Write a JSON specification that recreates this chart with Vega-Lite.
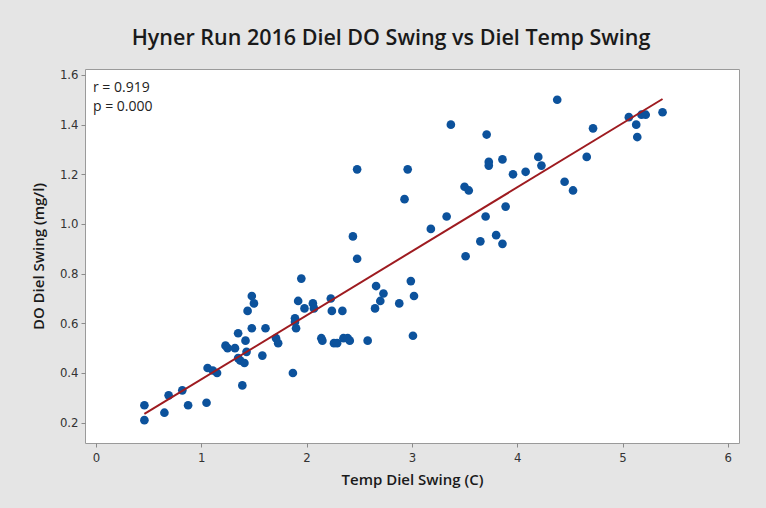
{
  "$schema": "https://vega.github.io/schema/vega-lite/v6.json",
  "width": 654,
  "height": 374,
  "autosize": {"type": "none"},
  "padding": {"left": 85, "top": 69, "right": 27, "bottom": 65},
  "background": "#e5e5e5",
  "title": {
    "text": "Hyner Run 2016 Diel DO Swing vs Diel Temp Swing",
    "font": "Open Sans",
    "fontSize": 21.5,
    "fontWeight": 600,
    "color": "#1a1a1a",
    "anchor": "middle",
    "frame": "group",
    "dx": -21,
    "baseline": "alphabetic",
    "offset": 2
  },
  "config": {
    "view": {"stroke": "#9a9a9a", "strokeWidth": 1, "fill": "white"},
    "axis": {
      "grid": false,
      "domain": false,
      "tickColor": "#8a8a8a",
      "tickSize": 4,
      "labelFont": "Liberation Sans Narrow, DejaVu Sans Condensed, sans-serif",
      "labelFontSize": 13,
      "labelColor": "#333333",
      "titleFont": "Open Sans",
      "titleFontSize": 15,
      "titleFontWeight": 600,
      "titleColor": "#1a1a1a"
    }
  },
  "datasets": {
    "pts": [
      {"temp": 0.46, "do": 0.27}, {"temp": 0.46, "do": 0.21}, {"temp": 0.65, "do": 0.24},
      {"temp": 0.69, "do": 0.31}, {"temp": 0.82, "do": 0.33}, {"temp": 0.875, "do": 0.27},
      {"temp": 1.05, "do": 0.28}, {"temp": 1.06, "do": 0.42}, {"temp": 1.11, "do": 0.41},
      {"temp": 1.15, "do": 0.4}, {"temp": 1.23, "do": 0.51}, {"temp": 1.25, "do": 0.5},
      {"temp": 1.32, "do": 0.5}, {"temp": 1.35, "do": 0.56}, {"temp": 1.42, "do": 0.53},
      {"temp": 1.43, "do": 0.485}, {"temp": 1.35, "do": 0.46}, {"temp": 1.37, "do": 0.45},
      {"temp": 1.41, "do": 0.44}, {"temp": 1.39, "do": 0.35}, {"temp": 1.44, "do": 0.65},
      {"temp": 1.48, "do": 0.71}, {"temp": 1.5, "do": 0.68}, {"temp": 1.48, "do": 0.58},
      {"temp": 1.61, "do": 0.58}, {"temp": 1.58, "do": 0.47}, {"temp": 1.71, "do": 0.54},
      {"temp": 1.73, "do": 0.52}, {"temp": 1.87, "do": 0.4}, {"temp": 1.89, "do": 0.62},
      {"temp": 1.9, "do": 0.58}, {"temp": 1.92, "do": 0.69}, {"temp": 1.95, "do": 0.78},
      {"temp": 1.98, "do": 0.66}, {"temp": 2.06, "do": 0.68}, {"temp": 2.07, "do": 0.66},
      {"temp": 1.89, "do": 0.605}, {"temp": 2.23, "do": 0.7}, {"temp": 2.24, "do": 0.65},
      {"temp": 2.34, "do": 0.65}, {"temp": 2.14, "do": 0.54}, {"temp": 2.15, "do": 0.53},
      {"temp": 2.26, "do": 0.52}, {"temp": 2.29, "do": 0.52}, {"temp": 2.35, "do": 0.54},
      {"temp": 2.39, "do": 0.54}, {"temp": 2.41, "do": 0.53}, {"temp": 2.58, "do": 0.53},
      {"temp": 2.66, "do": 0.75}, {"temp": 2.73, "do": 0.72}, {"temp": 2.7, "do": 0.69},
      {"temp": 2.65, "do": 0.66}, {"temp": 2.88, "do": 0.68}, {"temp": 2.99, "do": 0.77},
      {"temp": 3.02, "do": 0.71}, {"temp": 3.01, "do": 0.55}, {"temp": 2.48, "do": 1.22},
      {"temp": 2.96, "do": 1.22}, {"temp": 2.93, "do": 1.1}, {"temp": 2.44, "do": 0.95},
      {"temp": 2.48, "do": 0.86}, {"temp": 3.18, "do": 0.98}, {"temp": 3.33, "do": 1.03},
      {"temp": 3.37, "do": 1.4}, {"temp": 3.71, "do": 1.36}, {"temp": 4.38, "do": 1.5},
      {"temp": 4.72, "do": 1.385}, {"temp": 3.73, "do": 1.25}, {"temp": 3.73, "do": 1.235},
      {"temp": 3.86, "do": 1.26}, {"temp": 3.96, "do": 1.2}, {"temp": 4.08, "do": 1.21},
      {"temp": 4.2, "do": 1.27}, {"temp": 4.23, "do": 1.235}, {"temp": 4.66, "do": 1.27},
      {"temp": 4.45, "do": 1.17}, {"temp": 4.53, "do": 1.135}, {"temp": 3.5, "do": 1.15},
      {"temp": 3.54, "do": 1.135}, {"temp": 3.7, "do": 1.03}, {"temp": 3.89, "do": 1.07},
      {"temp": 3.8, "do": 0.955}, {"temp": 3.86, "do": 0.92}, {"temp": 3.65, "do": 0.93},
      {"temp": 3.51, "do": 0.87}, {"temp": 5.06, "do": 1.43}, {"temp": 5.18, "do": 1.44},
      {"temp": 5.22, "do": 1.44}, {"temp": 5.13, "do": 1.4}, {"temp": 5.14, "do": 1.35},
      {"temp": 5.38, "do": 1.45}
    ],
    "stats": [
      {"label": "r = 0.919", "line": 1},
      {"label": "p = 0.000", "line": 2}
    ]
  },
  "layer": [
    {
      "data": {"name": "pts"},
      "mark": {"type": "point", "filled": true, "shape": "circle", "size": 75, "color": "#0c529c", "opacity": 1},
      "encoding": {
        "x": {
          "field": "temp",
          "type": "quantitative",
          "scale": {"domain": [-0.104, 6.106], "nice": false, "zero": false},
          "axis": {"values": [0, 1, 2, 3, 4, 5, 6], "format": "d", "title": "Temp Diel Swing (C)", "labelPadding": 4, "titlePadding": 8}
        },
        "y": {
          "field": "do",
          "type": "quantitative",
          "scale": {"domain": [0.118, 1.624], "nice": false, "zero": false},
          "axis": {"values": [0.2, 0.4, 0.6, 0.8, 1.0, 1.2, 1.4, 1.6], "format": ".1f", "title": "DO Diel Swing (mg/l)", "labelPadding": 3, "titlePadding": 13}
        }
      }
    },
    {
      "data": {"name": "pts"},
      "transform": [{"regression": "do", "on": "temp"}],
      "mark": {"type": "line", "color": "#9e1b20", "strokeWidth": 2},
      "encoding": {
        "x": {"field": "temp", "type": "quantitative"},
        "y": {"field": "do", "type": "quantitative"}
      }
    },
    {
      "data": {"name": "stats"},
      "mark": {
        "type": "text",
        "align": "left",
        "baseline": "middle",
        "font": "Open Sans",
        "fontSize": 14,
        "color": "#222222"
      },
      "encoding": {
        "text": {"field": "label", "type": "nominal"},
        "x": {"datum": -0.028},
        "yOffset": {"field": "line", "type": "quantitative", "scale": {"domain": [1, 2], "range": [0, 19]}, "legend": null},
        "y": {"datum": 1.548}
      }
    }
  ]
}
